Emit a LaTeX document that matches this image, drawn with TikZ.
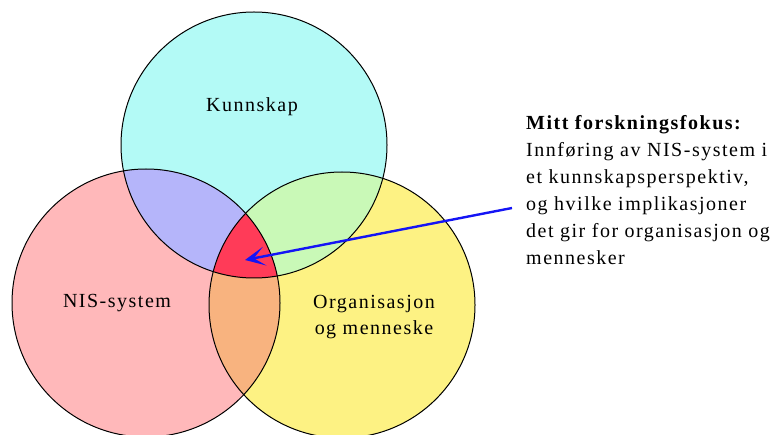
\documentclass[tikz,border=0pt]{standalone}
\usepackage{fontspec}
\setmainfont{Liberation Serif}[LetterSpace=7.5]
\usetikzlibrary{arrows.meta}
\definecolor{kcyan}{RGB}{179,250,246}
\definecolor{kpink}{RGB}{255,184,186}
\definecolor{kyellow}{RGB}{253,242,131}
\definecolor{klav}{RGB}{181,181,250}
\definecolor{kgreen}{RGB}{201,249,183}
\definecolor{korange}{RGB}{248,179,127}
\definecolor{kred}{RGB}{255,59,88}
\definecolor{kblue}{RGB}{20,20,245}
\begin{document}
\begin{tikzpicture}[x=1pt,y=-1pt,
  label/.style={font=\fontsize{20}{27}\selectfont, inner sep=0pt},
  ring/.style={draw=black, line width=1pt},
  pointer/.style={draw=kblue, line width=2.4pt,
    -{Stealth[length=20pt,width=19pt,inset=11pt]}}]
\useasboundingbox (0,0) rectangle (776,435);
% circle geometry
\def\ctop{(254,145) circle[radius=133]}
\def\cleft{(146,303) circle[radius=134]}
\def\cright{(342,305) circle[radius=133]}
% single sets
\fill[kcyan] \ctop;
\fill[kpink] \cleft;
\fill[kyellow] \cright;
% pairwise overlaps
\begin{scope}\clip \ctop; \fill[klav] \cleft; \end{scope}
\begin{scope}\clip \ctop; \fill[kgreen] \cright; \end{scope}
\begin{scope}\clip \cleft; \fill[korange] \cright; \end{scope}
% common core
\begin{scope}\clip \ctop; \clip \cleft; \fill[kred] \cright; \end{scope}
% outlines
\draw[ring] \ctop;
\draw[ring] \cleft;
\draw[ring] \cright;
% set labels (base anchor of a multi-line node sits on its last line)
\node[label, anchor=base] (kunnskap) at (252,112) {Kunnskap};
\node[label, anchor=base] (nis) at (117,308) {NIS-system};
\node[label, anchor=base, align=center] (org) at (374,335) {Organisasjon\\og menneske};
% research focus text
\node[label, anchor=base west, align=left] (fokus) at (526,265)
  {\textbf{Mitt forskningsfokus:}\\
   Innføring av NIS-system i\\
   et kunnskapsperspektiv,\\
   og hvilke implikasjoner\\
   det gir for organisasjon og\\
   mennesker};
\coordinate (tail) at (512,208);
\coordinate (core) at (245,260);
\draw[pointer] (tail) -- (core);
\end{tikzpicture}
\end{document}
